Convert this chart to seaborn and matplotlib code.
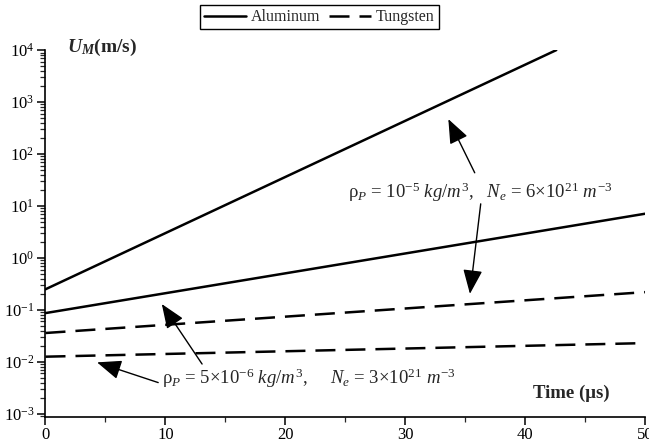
import matplotlib
matplotlib.use("Agg")
import matplotlib.pyplot as plt
import seaborn as sns
import pandas as pd
from matplotlib.lines import Line2D

# ---- data ----
al_fast_t = [0.0, 42.6]
al_fast_u = [0.25, 1.0e4]
al_slow_t = [0.0, 50.0]
al_slow_u = [0.087, 7.1]
w_upper_t = [0.0, 50.0]
w_upper_u = [0.036, 0.22]
w_lower_t = [0.0, 50.0]
w_lower_u = [0.0126, 0.023]

legend_labels = ["Aluminum", "Tungsten"]
x_ticks = [0, 10, 20, 30, 40, 50]

rows = []
for case, mat, ts, us in [("al_fast", "Aluminum", al_fast_t, al_fast_u),
                          ("al_slow", "Aluminum", al_slow_t, al_slow_u),
                          ("w_upper", "Tungsten", w_upper_t, w_upper_u),
                          ("w_lower", "Tungsten", w_lower_t, w_lower_u)]:
    for t, u in zip(ts, us):
        rows.append({"time": t, "U": u, "material": mat, "case": case})
df = pd.DataFrame(rows)

sns.set_theme(style="ticks")
plt.rcParams["font.family"] = ["Liberation Serif", "DejaVu Serif"]
plt.rcParams["mathtext.fontset"] = "custom"
plt.rcParams["mathtext.rm"] = "Liberation Serif"
plt.rcParams["mathtext.it"] = "Liberation Serif:italic"
plt.rcParams["mathtext.bf"] = "Liberation Serif:italic:bold"

fig = plt.figure(figsize=(6.49, 4.42), dpi=100)
ax = fig.add_axes([0.0701, 0.0566, 0.9237, 0.830])

sns.lineplot(data=df, x="time", y="U", style="material", units="case",
             estimator=None, color="black", linewidth=1.8,
             dashes={"Aluminum": "", "Tungsten": (8, 4)}, ax=ax, legend=False)

ax.set_yscale("log")
ax.set_xlim(0, 50)
ax.set_ylim(10 ** -3.06, 1e4)
ax.set_xticks(x_ticks)
ax.set_xticks([5, 15, 25, 35, 45], minor=True)
ax.set_xlabel("")
ax.set_ylabel("")
for s in ["top", "right"]:
    ax.spines[s].set_visible(False)
for s in ["left", "bottom"]:
    ax.spines[s].set_linewidth(1.2)
    ax.spines[s].set_color("black")
ax.tick_params(axis="both", which="major", length=6, width=1.1, labelsize=12,
               colors="black", direction="out")
ax.tick_params(axis="both", which="minor", length=3.5, width=0.9, direction="out")
ax.tick_params(axis="y", pad=2)
ax.tick_params(axis="x", pad=1.5)

# axis titles
fig.text(67 / 649, 1 - 47 / 442, r"$\mathbf{U_M}$(m/s)", fontsize=14,
         fontweight="bold", ha="left", va="center")
fig.text(610 / 649, 1 - 393 / 442, "Time (μs)", fontsize=13.5,
         fontweight="bold", ha="right", va="center")

# annotations
upper_txt = r"ρ$_{P}$ = 10$^{-5}$ $kg/m^{3}$,   $N_{e}$ = 6×10$^{21}$ $m^{-3}$"
lower_txt = r"ρ$_{P}$ = 5×10$^{-6}$ $kg/m^{3}$,     $N_{e}$ = 3×10$^{21}$ $m^{-3}$"
ax.text(25.25, 18.6, upper_txt, fontsize=13.5, ha="left", va="center")
ax.text(9.7, 0.0049, lower_txt, fontsize=13.5, ha="left", va="center")

aprops = dict(arrowstyle="-|>,head_length=0.75,head_width=0.3", color="black",
              lw=1.0, mutation_scale=20, shrinkA=0, shrinkB=0)
ax.annotate("", xy=(33.6, 470), xytext=(35.8, 43.6), arrowprops=aprops)
ax.annotate("", xy=(35.4, 0.204), xytext=(36.3, 11), arrowprops=aprops)
ax.annotate("", xy=(9.7, 0.13), xytext=(13.06, 0.0091), arrowprops=aprops)
ax.annotate("", xy=(4.3, 0.0098), xytext=(9.4, 0.004), arrowprops=aprops)

handles = [Line2D([], [], color="black", lw=1.8),
           Line2D([], [], color="black", lw=1.8, dashes=(8, 4))]
leg = fig.legend(handles, legend_labels, loc="center",
                 bbox_to_anchor=(0.492, 0.961), ncol=2, frameon=True,
                 fancybox=False, edgecolor="black", framealpha=1,
                 handlelength=2.6, columnspacing=0.6, borderpad=0.25,
                 handletextpad=0.3, borderaxespad=0, fontsize=11.5)
leg.get_frame().set_linewidth(1.0)

fig.savefig("out.png", dpi=100)
